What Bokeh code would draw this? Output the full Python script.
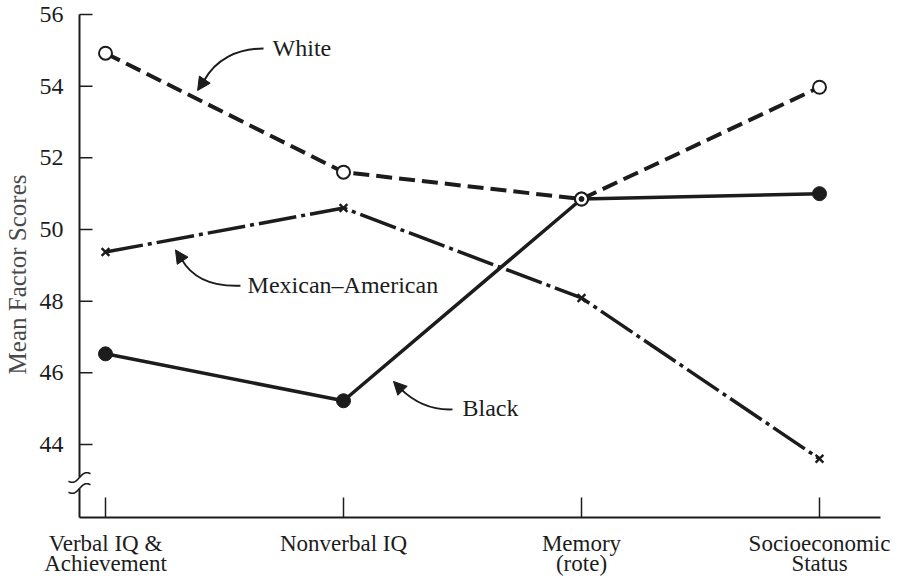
import numpy as np
from bokeh.plotting import figure
from bokeh.models import Range1d, Label, Arrow, NormalHead
from bokeh.core.properties import value
from bokeh.embed import file_html
from bokeh.resources import INLINE

# ---- data ----
categories = ["Verbal IQ &\nAchievement", "Nonverbal IQ", "Memory\n(rote)", "Socioeconomic\nStatus"]
white = [54.92, 51.6, 50.85, 53.97]
mexican = [49.37, 50.6, 48.09, 43.6]
black = [46.53, 45.22, 50.85, 51.0]
y_ticks = [44, 46, 48, 50, 52, 54, 56]
y_title = "Mean Factor Scores"

x = list(range(len(categories)))

FONT = "Liberation Serif"
INK = "#1c1c1c"

# geometry (data units); the frame fills the whole canvas
W, H = 898, 579
PX_X = 1 / 238.0            # one screen pixel in x data units
PX_Y = 1 / 35.83            # one screen pixel in y data units
X_AXIS_AT = -26 * PX_X      # vertical axis, 26 px left of the first category
Y_BASE = 44 - 73 * PX_Y     # horizontal axis, 73 px below the 44 tick
X_START, X_END = -105 * PX_X, (W - 105) * PX_X
Y_START, Y_END = 44 - (H - 444) * PX_Y, 56 + 14 * PX_Y

p = figure(width=W, height=H,
           x_range=Range1d(X_START, X_END), y_range=Range1d(Y_START, Y_END),
           output_backend="svg", toolbar_location=None,
           x_axis_location=None, y_axis_location=None,
           min_border_left=0, min_border_right=0, min_border_top=0, min_border_bottom=0)
p.outline_line_color = None
p.grid.visible = False
p.background_fill_color = "white"
p.border_fill_color = "white"

# ---- axis lines, ticks and break ----
brk_hi, brk_lo = 44 - 33 * PX_Y, 44 - 44 * PX_Y
p.segment(x0=[X_AXIS_AT, X_AXIS_AT], y0=[max(y_ticks), brk_lo], x1=[X_AXIS_AT, X_AXIS_AT], y1=[brk_hi, Y_BASE],
          line_color=INK, line_width=2)
p.segment(x0=[X_AXIS_AT], y0=[Y_BASE], x1=[3 + 61 * PX_X], y1=[Y_BASE], line_color=INK, line_width=2)
p.segment(x0=[X_AXIS_AT] * len(y_ticks), y0=y_ticks, x1=[X_AXIS_AT + 13 * PX_X] * len(y_ticks), y1=y_ticks,
          line_color=INK, line_width=1.5)
p.segment(x0=x, y0=[Y_BASE] * len(x), x1=x, y1=[Y_BASE + 20 * PX_Y] * len(x),
          line_color=INK, line_width=1.5)
t = np.linspace(-11, 11, 40)
for yc in (brk_hi, brk_lo):
    p.line(X_AXIS_AT + t * PX_X, yc + (0.35 * t + 2.6 * np.sin(2 * np.pi * t / 22.0)) * PX_Y,
           line_color=INK, line_width=1.6)

# ---- tick labels and axis title ----
p.text(x=[X_AXIS_AT - 16 * PX_X] * len(y_ticks), y=y_ticks, text=[str(v) for v in y_ticks],
       text_font=value(FONT), text_font_size="24px", text_align="right", text_baseline="middle",
       text_color=INK)
p.text(x=[X_START + 17 * PX_X], y=[44 + (444 - 274) * PX_Y], text=[y_title], angle=np.pi / 2,
       text_font=value(FONT), text_font_size="25px", text_align="center", text_baseline="middle",
       text_color="#4a4a4a")

line1 = [c.split("\n")[0] for c in categories]
line2 = [c.split("\n")[1] if "\n" in c else "" for c in categories]
p.text(x=x, y=[Y_BASE - 26 * PX_Y] * len(x), text=line1, text_font=value(FONT),
       text_font_size="23px", text_align="center", text_baseline="alphabetic", text_color=INK)
p.text(x=x, y=[Y_BASE - 46 * PX_Y] * len(x), text=line2, text_font=value(FONT),
       text_font_size="23px", text_align="center", text_baseline="alphabetic", text_color=INK)

# ---- series lines ----
p.line(x, white, line_color=INK, line_width=4, line_dash="16 7")
p.line(x, mexican, line_color=INK, line_width=3.5, line_dash="38 5 4 5")
p.line(x, black, line_color=INK, line_width=3.5)

# ---- markers ----
p.scatter(x, black, marker="circle", size=14, fill_color=INK, line_color=INK)
p.scatter(x, white, marker="circle", size=13, fill_color="white", line_color=INK, line_width=2)
p.scatter(x, mexican, marker="x", size=11, line_color=INK, line_width=2.4)
ov_x = [xi for xi, w, b in zip(x, white, black) if abs(w - b) < 0.05]
ov_y = [w for w, b in zip(white, black) if abs(w - b) < 0.05]
p.scatter(ov_x, ov_y, marker="circle", size=5, fill_color=INK, line_color=INK)

# ---- annotations ----
def lbl(xv, yv, txt):
    p.add_layout(Label(x=xv, y=yv, text=txt, text_font=FONT, text_font_size="24px",
                       text_baseline="middle", text_align="left", text_color=INK))

lbl(0.702, 55.07, "White")
lbl(0.597, 48.46, "Mexican\u2013American")
lbl(1.500, 45.03, "Black")

# curved pointers: start, cp1, cp2, end, tip
pointers = [
    ((0.664, 55.05), (0.555, 55.05), (0.462, 54.75), (0.412, 54.13), (0.387, 53.88)),
    ((0.567, 48.43), (0.450, 48.40), (0.366, 48.62), (0.319, 49.18), (0.294, 49.43)),
    ((1.458, 44.98), (1.357, 44.95), (1.290, 45.23), (1.239, 45.56), (1.210, 45.76)),
]
p.bezier(x0=[a[0][0] for a in pointers], y0=[a[0][1] for a in pointers],
         x1=[a[3][0] for a in pointers], y1=[a[3][1] for a in pointers],
         cx0=[a[1][0] for a in pointers], cy0=[a[1][1] for a in pointers],
         cx1=[a[2][0] for a in pointers], cy1=[a[2][1] for a in pointers],
         line_color=INK, line_width=2)
for a in pointers:
    p.add_layout(Arrow(end=NormalHead(size=13, fill_color=INK, line_color=INK, line_width=1),
                       x_start=a[3][0], y_start=a[3][1], x_end=a[4][0], y_end=a[4][1],
                       line_color=INK, line_width=2))

open("out.html", "w").write(file_html(p, INLINE))
